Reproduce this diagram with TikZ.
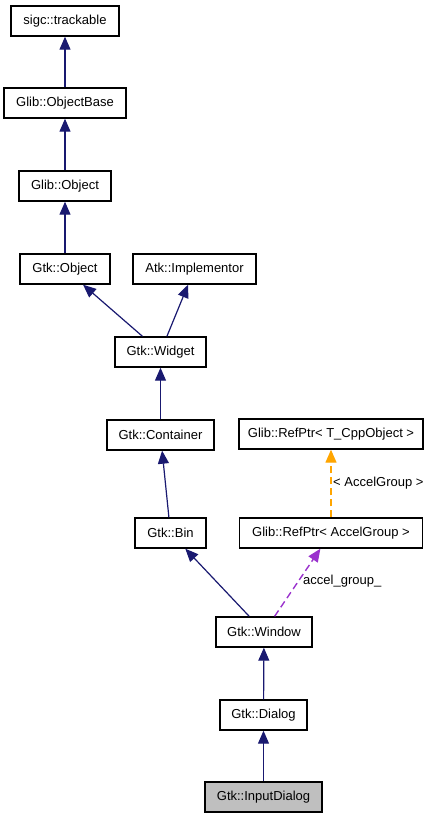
\documentclass[tikz,border=0pt]{standalone}
\usepackage{fontspec}
\setmainfont{Liberation Sans}
\usetikzlibrary{arrows.meta}
\definecolor{edgeblue}{RGB}{25,25,112}
\definecolor{tmplorange}{RGB}{255,165,0}
\definecolor{usepurple}{RGB}{154,50,205}
\definecolor{focusgray}{RGB}{191,191,191}

\begin{document}
\begin{tikzpicture}[x=1pt, y=-1pt,
    cls/.style={draw, line width=1.4pt, minimum height=30pt, inner sep=0pt, font=\fontsize{13}{15}\selectfont},
    inherit/.style={-{Triangle[length=13pt, width=11pt]}, edgeblue, line width=1.2pt},
    tmpl/.style={-{Triangle[length=13pt, width=11pt]}, tmplorange, dash pattern=on 7pt off 4pt, line width=1.4pt},
    member/.style={-{Triangle[length=13pt, width=11pt]}, usepurple, dash pattern=on 7pt off 4pt, line width=1.4pt},
    elabel/.style={anchor=west, inner sep=0pt, font=\fontsize{13}{15}\selectfont}]
  \useasboundingbox (0,0) rectangle (433,819);
  % class boxes
  \node[cls, minimum width=108pt] (trackable) at (65,21) {sigc::trackable};
  \node[cls, minimum width=122pt] (objbase) at (65,103) {Glib::ObjectBase};
  \node[cls, minimum width=92pt] (glibobj) at (65,186) {Glib::Object};
  \node[cls, minimum width=90pt] (gtkobj) at (65,269) {Gtk::Object};
  \node[cls, minimum width=123pt] (implementor) at (194.5,269) {Atk::Implementor};
  \node[cls, minimum width=91pt] (widget) at (160.5,352) {Gtk::Widget};
  \node[cls, minimum width=107pt] (container) at (160.5,435) {Gtk::Container};
  \node[cls, minimum width=184pt] (refptrT) at (331,434) {Glib::RefPtr< T\_CppObject >};
  \node[cls, minimum width=71pt] (bin) at (170.5,533) {Gtk::Bin};
  \node[cls, minimum width=183pt] (refptrAG) at (331,533) {Glib::RefPtr< AccelGroup >};
  \node[cls, minimum width=96pt] (window) at (264,632) {Gtk::Window};
  \node[cls, minimum width=87pt] (dialog) at (263.5,715) {Gtk::Dialog};
  \node[cls, minimum width=117pt, fill=focusgray] (inputdlg) at (263.5,797) {Gtk::InputDialog};
  % inheritance
  \draw[inherit] (objbase) -- (trackable);
  \draw[inherit] (glibobj) -- (objbase);
  \draw[inherit] (gtkobj) -- (glibobj);
  \draw[inherit] (widget) -- (gtkobj);
  \draw[inherit] (widget) -- (implementor);
  \draw[inherit] (container) -- (widget);
  \draw[inherit] (bin) -- (container);
  \draw[inherit] (window) -- (bin);
  \draw[inherit] (dialog) -- (window);
  \draw[inherit] (inputdlg) -- (dialog);
  % template and member
  \draw[tmpl] (refptrAG) -- (refptrT);
  \draw[member] (window) -- (refptrAG);
  \node[elabel] (tmplarg) at (333,483) {< AccelGroup >};
  \node[elabel] (membername) at (303,581) {accel\_group\_};
\end{tikzpicture}
\end{document}
